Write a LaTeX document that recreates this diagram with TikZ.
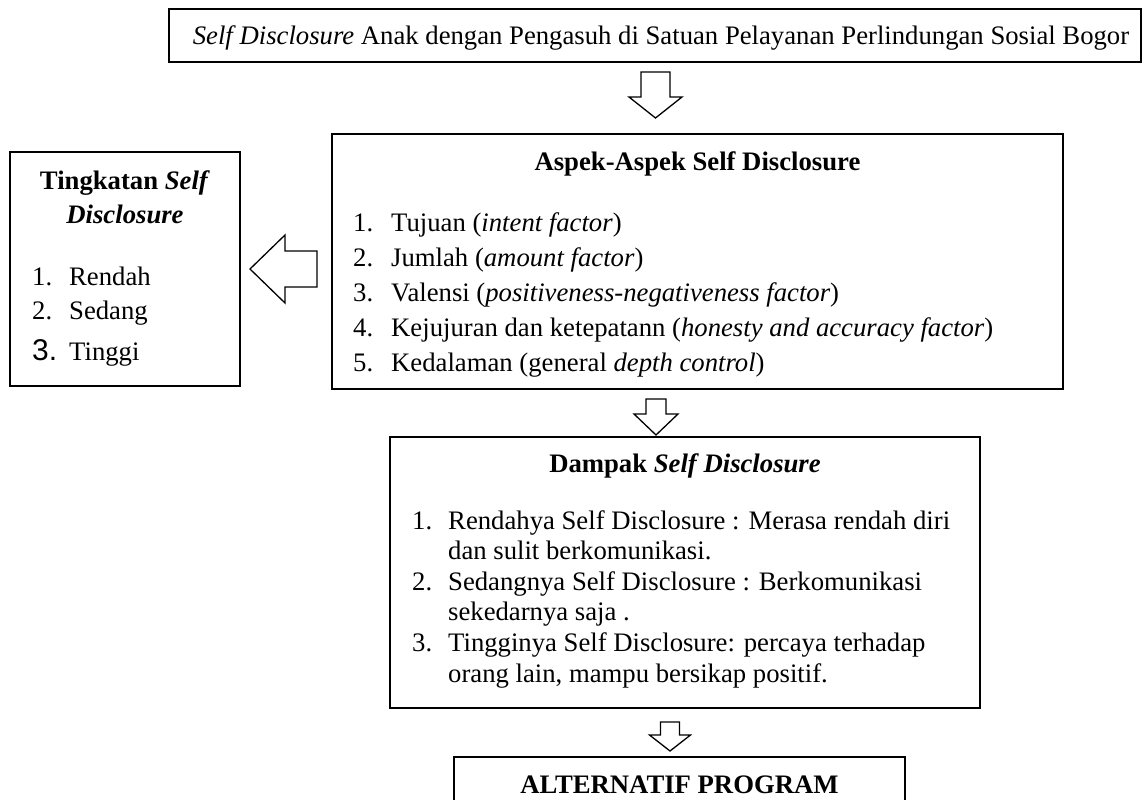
\documentclass[tikz,border=0pt]{standalone}
\usepackage{fontspec}
\setmainfont{Liberation Serif}
\newfontfamily\angkafont{Liberation Sans}
\usetikzlibrary{positioning}

\tikzset{
  kotak/.style={draw, line width=2pt, inner sep=0pt},
  teks/.style={font=\fontsize{26.7}{30.6}\selectfont, inner sep=0pt},
  panah/.style={draw, line width=1.3pt, fill=white, line join=miter},
}

\begin{document}
\begin{tikzpicture}[x=1pt, y=-1pt]
\useasboundingbox (0,0) rectangle (1144,800);

% kotak-kotak
\node[kotak, teks, minimum width=972pt, minimum height=53pt, text height=18pt, text depth=0pt] (judul) at (655,35.5)
  {\hspace{12pt}\textit{Self Disclosure} Anak dengan Pengasuh di Satuan Pelayanan Perlindungan Sosial Bogor};
\node[kotak, minimum width=731pt, minimum height=255pt] (aspek) at (697.5,261.5) {};
\node[kotak, minimum width=230pt, minimum height=234pt] (tingkat) at (125,269) {};
\node[kotak, minimum width=590pt, minimum height=271pt] (dampak) at (685,572.5) {};
\node[kotak, minimum width=451pt, minimum height=60pt] (alt) at (679.5,787) {};

% judul dalam kotak
\node[teks, anchor=base] (jAspek) at ([yshift=-37pt]aspek.north) {\textbf{Aspek-Aspek Self Disclosure}};
\node[teks, anchor=base, font=\fontsize{26.7}{34}\selectfont] (jTingkat) at ([yshift=-38pt]tingkat.north)
  {\bfseries\begin{tabular}[t]{@{}c@{}}Tingkatan \textit{Self}\\ \textit{Disclosure}\end{tabular}};
\node[teks, anchor=base] (jDampak) at ([yshift=-36pt]dampak.north) {\textbf{Dampak \textit{Self Disclosure}}};
\node[teks, anchor=base] (jAlt) at ([yshift=-37pt]alt.north) {\textbf{ALTERNATIF PROGRAM}};

% daftar
\node[teks, anchor=base west, font=\fontsize{26.7}{35}\selectfont] (dAspek) at ([xshift=22pt, yshift=-98pt]aspek.north west)
  {\begin{tabular}[t]{@{}p{38pt}@{}l@{}}
  1. & Tujuan (\textit{intent factor})\\
  2. & Jumlah (\textit{amount factor})\\
  3. & Valensi (\textit{positiveness-negativeness factor})\\
  4. & Kejujuran dan ketepatann (\textit{honesty and accuracy factor})\\
  5. & Kedalaman (general \textit{depth control})
  \end{tabular}};
\node[teks, anchor=base west, font=\fontsize{26.7}{34}\selectfont] (dTingkat) at ([xshift=23pt, yshift=-134pt]tingkat.north west)
  {\begin{tabular}[t]{@{}p{37pt}@{}l@{}}
  1. & Rendah\\
  2. & Sedang\\[7pt]
  {\angkafont\fontsize{30}{34}\selectfont 3.} & Tinggi
  \end{tabular}};
\node[teks, anchor=base west] (dDampak) at ([xshift=23pt, yshift=-93pt]dampak.north west)
  {\begin{tabular}[t]{@{}p{36pt}@{}l@{}}
  1. & Rendahya Self Disclosure : Merasa rendah diri\\
     & dan sulit berkomunikasi.\\
  2. & Sedangnya Self Disclosure : Berkomunikasi\\
     & sekedarnya saja .\\
  3. & Tingginya Self Disclosure: percaya terhadap\\
     & orang lain, mampu bersikap positif.
  \end{tabular}};

% panah
\coordinate (p1) at (655.5,72);
\coordinate (p2) at (656,399);
\coordinate (p3) at (670,722);
\coordinate (p4) at (317,269);
\draw[panah] (p1) ++(-14.5,0) -- ++(29,0) -- ++(0,25) -- ++(12,0) -- ++(-26.5,21) -- ++(-26.5,-21) -- ++(12,0) -- cycle;
\draw[panah] (p2) ++(-10,0) -- ++(20,0) -- ++(0,15) -- ++(12,0) -- ++(-22,21) -- ++(-22,-21) -- ++(12,0) -- cycle;
\draw[panah] (p3) ++(-9.5,0) -- ++(19,0) -- ++(0,13) -- ++(11,0) -- ++(-20.5,16) -- ++(-20.5,-16) -- ++(11,0) -- cycle;
\draw[panah] (p4) ++(0,-18) -- ++(0,36) -- ++(-32,0) -- ++(0,16) -- ++(-35,-34) -- ++(35,-34) -- ++(0,16) -- cycle;
\end{tikzpicture}
\end{document}
